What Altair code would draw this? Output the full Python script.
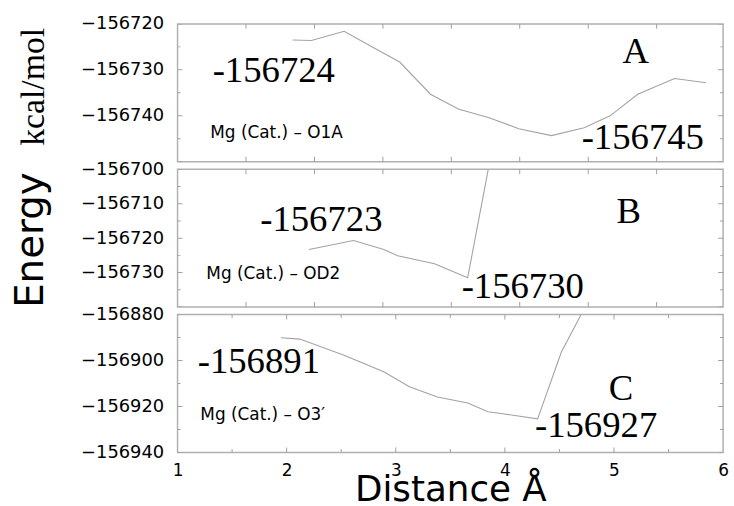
import altair as alt
import pandas as pd

# ---- data ----
A_x = [2.055, 2.227, 2.527, 2.76, 3.036, 3.318, 3.573, 3.855, 4.127, 4.427, 4.727, 4.964, 5.218, 5.555, 5.845]
A_y = [-156723.5, -156723.6, -156721.6, -156724.7, -156728.3, -156735.3, -156738.5, -156740.4,
       -156742.8, -156744.3, -156742.6, -156740.0, -156735.3, -156731.9, -156732.8]

B_x = [2.205, 2.612, 2.891, 3.018, 3.355, 3.659, 3.86]
B_y = [-156723.3, -156720.7, -156723.3, -156725.1, -156727.4, -156731.5, -156698.0]

C_x = [1.949, 2.12, 2.526, 2.89, 3.125, 3.382, 3.66, 3.845, 3.98, 4.30, 4.518, 4.71]
C_y = [-156890.1, -156890.7, -156897.7, -156904.9, -156911.4, -156915.9, -156918.5,
       -156922.3, -156923.2, -156925.4, -156896.3, -156879.0]

# y domains and tick values
A_dom = [-156750, -156720]
B_dom = [-156740, -156700]
C_dom = [-156940, -156880]
A_labels = [-156740, -156730, -156720]
B_labels = [-156730, -156720, -156710, -156700]
C_labels = [-156940, -156920, -156900, -156880]
A_major = [-156750, -156740, -156730, -156720]
A_minor = [-156745, -156735, -156725]
B_major = [-156740, -156730, -156720, -156710, -156700]
B_minor = [-156735, -156725, -156715, -156705]
C_major = [-156940, -156920, -156900, -156880]
C_minor = [-156930, -156910, -156890]

X_dom = [1, 6]
AB_xticks = [1.627, 2.255, 2.882, 3.509, 4.136, 4.764, 5.391]
C_xmajor = [2, 3, 4, 5]
C_xminor = [1.5, 2.5, 3.5, 4.5, 5.5]
C_xlabels = [1, 2, 3, 4, 5, 6]

# annotations (text, x, y)
A_big = ["-156724", "-156745", "A"]
A_big_x = [1.882, 5.264, 5.2]
A_big_y = [-156732.7, -156747.2, -156728.6]
A_lab = ["Mg (Cat.) – O1A"]
A_lab_x = [1.3]
A_lab_y = [-156744.8]

B_big = ["-156723", "-156730", "B"]
B_big_x = [2.318, 4.164, 5.136]
B_big_y = [-156718.0, -156737.3, -156715.7]
B_lab = ["Mg (Cat.) – OD2"]
B_lab_x = [1.264]
B_lab_y = [-156731.8]

C_big = ["-156891", "C", "-156927"]
C_big_x = [1.745, 5.064, 4.836]
C_big_y = [-156905.5, -156917.1, -156933.5]
C_lab = ["Mg (Cat.) – O3′"]
C_lab_x = [1.209]
C_lab_y = [-156925.7]

SANS = "DejaVu Sans"
SERIF = "Liberation Serif"
TICKC = "#a0a0a0"
W, H = 550, 139


def panel(xs, ys, ydom, ylabels, ymajor, yminor, xmajor, xminor,
          big, bigx, bigy, lab, labx, laby, yaxis_extra, xaxis=None):
    xs_scale = alt.Scale(domain=X_dom, nice=False, zero=False)
    ys_scale = alt.Scale(domain=ydom, nice=False, zero=False)
    yaxis = alt.Axis(values=ylabels, format="d", ticks=False, domain=False, grid=False,
                     labelFont=SANS, labelFontSize=18, labelColor="black", labelPadding=14,
                     **yaxis_extra)
    line = alt.Chart(pd.DataFrame({"x": xs, "y": ys})).mark_line(
        color="#a3a3a3", strokeWidth=1.1, clip=True
    ).encode(
        x=alt.X("x:Q", scale=xs_scale, axis=xaxis),
        y=alt.Y("y:Q", scale=ys_scale, axis=yaxis),
    )
    layers = [line]
    # y ticks on both sides (inward)
    for vals, size in ((ymajor, 10), (yminor, 6)):
        df = pd.DataFrame({"y": vals})
        for xe in X_dom:
            layers.append(alt.Chart(df).mark_tick(
                orient="horizontal", size=size, thickness=1, color=TICKC, clip=True, opacity=1
            ).encode(x=alt.datum(xe), y=alt.Y("y:Q")))
    for vals, size in ((xmajor, 10), (xminor, 7)):
        if not vals:
            continue
        df = pd.DataFrame({"x": vals})
        for ye in ydom:
            layers.append(alt.Chart(df).mark_tick(
                orient="vertical", size=size, thickness=1, color=TICKC, clip=True, opacity=1
            ).encode(x=alt.X("x:Q"), y=alt.datum(ye)))
    layers.append(alt.Chart(pd.DataFrame({"t": big, "x": bigx, "y": bigy})).mark_text(
        font=SERIF, fontSize=37, color="black", align="center", baseline="alphabetic"
    ).encode(x="x:Q", y="y:Q", text="t:N"))
    layers.append(alt.Chart(pd.DataFrame({"t": lab, "x": labx, "y": laby})).mark_text(
        font=SANS, fontSize=17, color="black", align="left", baseline="alphabetic"
    ).encode(x="x:Q", y="y:Q", text="t:N"))
    return alt.layer(*layers).properties(width=W, height=H)


pA = panel(A_x, A_y, A_dom, A_labels, A_major, A_minor, AB_xticks, [],
           A_big, A_big_x, A_big_y, A_lab, A_lab_x, A_lab_y,
           dict(title="kcal/mol", titleFont=SERIF, titleFontSize=34, titleFontWeight="normal",
                titleColor="black", titleAngle=270, titleX=-135, titleY=63,
                titleBaseline="alphabetic", titleAlign="center"))
pB = panel(B_x, B_y, B_dom, B_labels, B_major, B_minor, AB_xticks, [],
           B_big, B_big_x, B_big_y, B_lab, B_lab_x, B_lab_y,
           dict(title="Energy", titleFont=SANS, titleFontSize=39, titleFontWeight="normal",
                titleColor="black", titleAngle=270, titleX=-136, titleY=71,
                titleBaseline="alphabetic", titleAlign="center"))
xaxisC = alt.Axis(values=C_xlabels, format="d", ticks=False, domain=False, grid=False,
                  labelFont=SANS, labelFontSize=17, labelColor="black", labelPadding=10,
                  labelFlush=False,
                  title="Distance Å", titleFont=SANS, titleFontSize=36, titleFontWeight="normal",
                  titleColor="black", titleY=49, titleBaseline="alphabetic")
pC = panel(C_x, C_y, C_dom, C_labels, C_major, C_minor, C_xmajor, C_xminor,
           C_big, C_big_x, C_big_y, C_lab, C_lab_x, C_lab_y,
           dict(title=None), xaxis=xaxisC)

chart = alt.vconcat(pA, pB, pC, spacing=7.5, bounds="flush").properties(
    padding={"left": 11, "top": 12, "right": 4, "bottom": 0},
    background="white",
).configure_view(stroke="#b0b0b0", strokeWidth=1.5)

chart.save("out.html", embed_options={"renderer": "svg", "actions": False})
